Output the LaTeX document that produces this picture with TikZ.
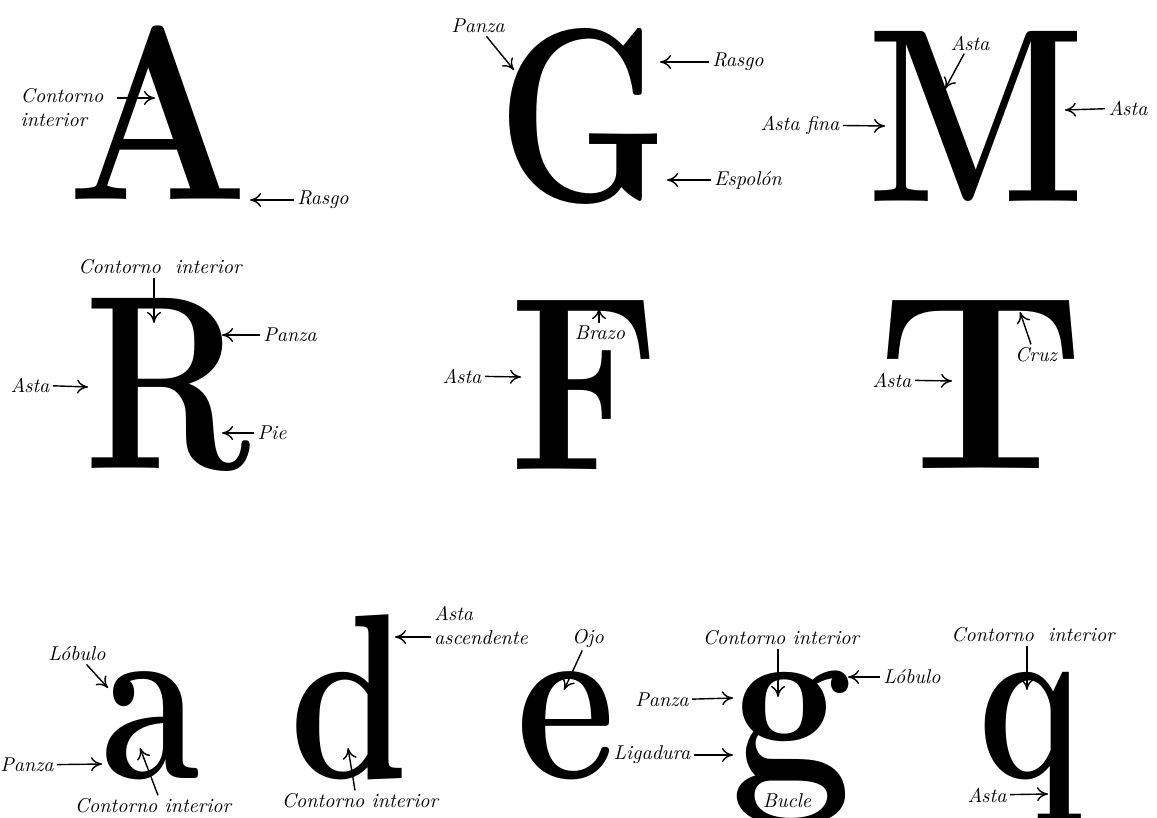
\documentclass[tikz,border=0pt]{standalone}
\usepackage{graphicx}
\usetikzlibrary{arrows.meta}

\tikzset{
  lbl/.style={font=\itshape, inner sep=1.5pt},
  capglyph/.style={anchor=base, inner sep=0pt, font=\bfseries\fontsize{124}{124}\selectfont},
  lowglyph/.style={anchor=base, inner sep=0pt, font=\bfseries\fontsize{118}{118}\selectfont},
  arr/.style={-{To[length=5.5pt,width=7pt]}, line width=0.7pt},
}
\newcommand{\narrow}[2]{\scalebox{#1}[1]{#2}}

\begin{document}
\begin{tikzpicture}[x=0.5pt, y=-0.5pt]
  \useasboundingbox (0,0) rectangle (1157,818);
  \clip (0,0) rectangle (1157,818);

  % upper case, first row
  \node[capglyph] (gA) at (158,200) {\narrow{0.86}{A}};
  \node[capglyph] (gG) at (583,202) {\narrow{0.78}{G}};
  \node[capglyph] (gM) at (976,202) {\narrow{0.83}{M}};

  \node[lbl, align=left] (ciA) at (62,108) {Contorno\\interior};
  \coordinate (ciAt) at (155,98);
  \draw[arr] ([xshift=5pt]ciA.east |- ciAt) -- (ciAt);
  \node[lbl] (rasA) at (323,200) {Rasgo};
  \coordinate (rasAt) at (250,200);
  \draw[arr] (rasA) -- (rasAt);

  \node[lbl] (panG) at (478,26) {Panza};
  \coordinate (panGt) at (514,70);
  \draw[arr] (panG) -- (panGt);
  \node[lbl] (rasG) at (738,62) {Rasgo};
  \coordinate (rasGt) at (660,62);
  \draw[arr] (rasG) -- (rasGt);
  \node[lbl] (espG) at (748,180) {Espolón};
  \coordinate (espGt) at (667,180);
  \draw[arr] (espG) -- (espGt);

  \node[lbl] (astM) at (970,43) {Asta};
  \coordinate (astMt) at (945,89);
  \draw[arr] (astM) -- (astMt);
  \node[lbl] (astMr) at (1128,108) {Asta};
  \coordinate (astMrt) at (1065,110);
  \draw[arr] (astMr) -- (astMrt);
  \node[lbl] (finM) at (800,125) {Asta fina};
  \coordinate (finMt) at (885,126);
  \draw[arr] (finM) -- (finMt);

  % upper case, second row
  \node[capglyph] (gR) at (168,468) {\narrow{0.80}{R}};
  \node[capglyph] (gF) at (585,469) {\narrow{0.86}{F}};
  \node[capglyph] (gT) at (981,468) {\narrow{1.08}{T}};

  \node[lbl] (ciR) at (160,267) {Contorno\ \ interior};
  \coordinate (ciRt) at (154,323);
  \draw[arr] (ciR.south -| ciRt) -- (ciRt);
  \node[lbl] (panR) at (290,335) {Panza};
  \coordinate (panRt) at (222,335);
  \draw[arr] (panR) -- (panRt);
  \node[lbl] (astR) at (30,385) {Asta};
  \coordinate (astRt) at (88,387);
  \draw[arr] (astR) -- (astRt);
  \node[lbl] (pieR) at (272,433) {Pie};
  \coordinate (pieRt) at (222,433);
  \draw[arr] (pieR) -- (pieRt);

  \node[lbl] (braF) at (600,333) {Brazo};
  \coordinate (braFt) at (599,308);
  \draw[arr] (braF.north -| braFt) -- (braFt);
  \node[lbl] (astF) at (462,376) {Asta};
  \coordinate (astFt) at (521,377);
  \draw[arr] (astF) -- (astFt);

  \node[lbl] (cruT) at (1036,355) {Cruz};
  \coordinate (cruTt) at (1020,312);
  \draw[arr] ([xshift=-2.5pt]cruT.north) -- (cruTt);
  \node[lbl] (astT) at (892,380) {Asta};
  \coordinate (astTt) at (952,381);
  \draw[arr] (astT) -- (astTt);

  % lower case
  \node[lowglyph] (ga) at (151,778) {\narrow{0.76}{a}};
  \node[lowglyph] (gd) at (349,778) {\narrow{0.81}{d}};
  \node[lowglyph] (ge) at (566,778) {\narrow{0.82}{e}};
  \node[lowglyph] (gg) at (792,778) {\narrow{0.92}{g}};
  \node[lowglyph] (gq) at (1030,778) {\narrow{0.74}{q}};

  \node[lbl] (loba) at (77,654) {Lóbulo};
  \coordinate (lobat) at (108,688);
  \draw[arr] (loba) -- (lobat);
  \node[lbl] (pana) at (27,765) {Panza};
  \coordinate (panat) at (102,764);
  \draw[arr] (pana) -- (panat);
  \node[lbl] (cia) at (153,806) {Contorno interior};
  \coordinate (ciat) at (140,748);
  \draw[arr] ([xshift=2.5pt]cia.north) -- (ciat);

  \node[lbl, align=left] (ascd) at (481,625) {Asta\\ascendente};
  \coordinate (ascdt) at (395,637);
  \draw[arr] (ascd.west |- ascdt) -- (ascdt);
  \node[lbl] (cid) at (360,801) {Contorno interior};
  \coordinate (cidt) at (348,748);
  \draw[arr] ([xshift=-2.5pt]cid.north) -- (cidt);

  \node[lbl] (ojoe) at (588,638) {Ojo};
  \coordinate (ojoet) at (564,690);
  \draw[arr] (ojoe) -- (ojoet);

  \node[lbl] (cig) at (781,638) {Contorno interior};
  \coordinate (cigt) at (778,697);
  \draw[arr] (cig.south -| cigt) -- (cigt);
  \node[lbl] (lobg) at (912,677) {Lóbulo};
  \coordinate (lobgt) at (848,677);
  \draw[arr] (lobg) -- (lobgt);
  \node[lbl] (pang) at (662,700) {Panza};
  \coordinate (pangt) at (733,698);
  \draw[arr] (pang) -- (pangt);
  \node[lbl] (ligg) at (652,755) {Ligadura};
  \coordinate (liggt) at (733,755);
  \draw[arr] (ligg) -- (liggt);
  \node[lbl] (bucg) at (787,801) {Bucle};

  \node[lbl] (ciq) at (1033,635) {Contorno\ \ interior};
  \coordinate (ciqt) at (1027,690);
  \draw[arr] (ciq.south -| ciqt) -- (ciqt);
  \node[lbl] (astq) at (987,795) {Asta};
  \coordinate (astqt) at (1048,794);
  \draw[arr] (astq) -- (astqt);
\end{tikzpicture}
\end{document}
